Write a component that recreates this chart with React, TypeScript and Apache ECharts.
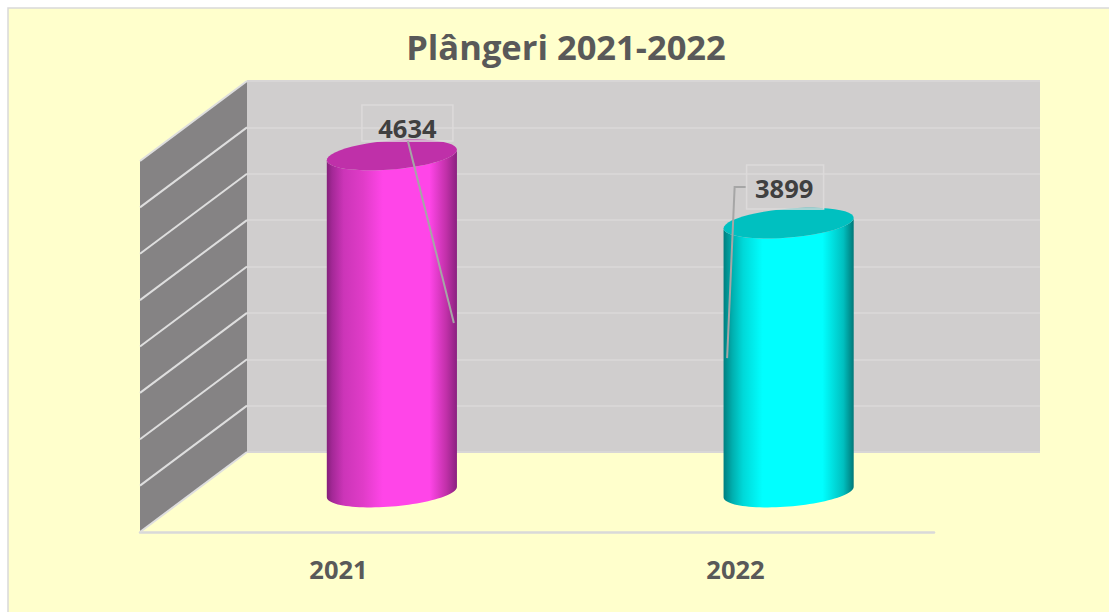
import React, { useEffect, useRef } from "react";
import * as echarts from "echarts";

const titleText = "Plângeri 2021-2022";
const categories = ["2021", "2022"];
const values = [4634, 3899];
const axisMin = 1000;
const axisMax = 5000;
const axisStep = 500;
const wallTicks = [1000, 1500, 2000, 2500, 3000, 3500, 4000, 4500, 5000];

const FONT = "'Open Sans', 'Noto Sans', sans-serif";
const depthX = 53.5;
const depthY = 40;
const barRatio = 0.328;
const capB = 14.5;
const capShear = 5.2;

const cylinderStyles = [
  {
    top: "#BF30A9",
    stops: [
      [0, "#84207A"], [0.04, "#A32896"], [0.13, "#CC35B8"], [0.28, "#E03CC8"], [0.43, "#FF45E8"],
      [0.79, "#FF45E8"], [0.92, "#C030A8"], [1, "#8A2180"],
    ],
  },
  {
    top: "#00C0C0",
    stops: [
      [0, "#007F7F"], [0.07, "#00B0B0"], [0.15, "#00D8D8"], [0.3, "#00FFFF"],
      [0.76, "#00FFFF"], [0.92, "#00C0C0"], [1, "#007878"],
    ],
  },
];

// label box relative to the top centre of each cylinder, leader points relative to the same centre
const labelLayouts = [
  { dx: 15.5, dy: -32, w: 91, h: 36, textDx: 0, textDy: 5.5, leader: [[16, -14], [62, 168]] },
  { dx: -3.5, dy: -36, w: 77, h: 44, textDx: -1, textDy: 1, leader: [[-43, -36], [-54, -36], [-61.5, 135]] },
];

function capPoints(cx: number, cy: number, a: number, from: number, to: number) {
  const pts: number[][] = [];
  const n = 48;
  for (let i = 0; i <= n; i++) {
    const t = from + ((to - from) * i) / n;
    pts.push([cx + a * Math.cos(t), cy + capB * Math.sin(t) - capShear * Math.cos(t)]);
  }
  return pts;
}

export default function App() {
  const ref = useRef<HTMLDivElement>(null);
  useEffect(() => {
    document.body.style.margin = "0";
    const chart = echarts.init(ref.current!, null, { renderer: "svg" });
    const hiddenX = (gridIndex: number) => ({
      type: "category" as const,
      gridIndex,
      data: categories,
      axisLine: { show: false },
      axisTick: { show: false },
      axisLabel: { show: false },
      splitLine: { show: false },
    });
    const baseY = (gridIndex: number) => ({
      type: "value" as const,
      gridIndex,
      min: axisMin,
      max: axisMax,
      interval: axisStep,
      axisLine: { show: false },
      axisTick: { show: false },
      axisLabel: { show: false },
      splitLine: { show: false },
    });
    chart.setOption({
      animation: false,
      backgroundColor: "#FFFFFF",
      title: {
        text: titleText,
        left: 561,
        top: 24,
        textAlign: "center",
        textStyle: { fontFamily: FONT, fontWeight: "bold", fontSize: 34.5, color: "#595959" },
      },
      graphic: [
        {
          type: "rect",
          z: -10,
          silent: true,
          shape: { x: 8, y: 8, width: 1110, height: 610 },
          style: { fill: "#FFFFCC", stroke: "#D9D9D9", lineWidth: 1.5 },
        },
      ],
      grid: [
        { left: 247, top: 81, width: 793, height: 371, show: true, backgroundColor: "#D0CECE", borderWidth: 0 },
        { left: 193.5, top: 121, width: 793.5, height: 371 },
        { left: 140, top: 161, width: 794, height: 371 },
      ],
      xAxis: [
        hiddenX(0),
        hiddenX(1),
        {
          ...hiddenX(2),
          axisLine: { show: true, lineStyle: { color: "#D9D9D9", width: 2.5 } },
          axisLabel: {
            show: true,
            margin: 24,
            fontFamily: FONT,
            fontWeight: "bold",
            fontSize: 25.5,
            color: "#595959",
          },
        },
      ],
      yAxis: [
        {
          ...baseY(0),
          splitLine: { show: true, lineStyle: { color: "#D8D6D6", width: 2 } },
        },
        baseY(1),
        baseY(2),
      ],
      series: [
        {
          type: "custom",
          xAxisIndex: 1,
          yAxisIndex: 1,
          z: 3,
          silent: true,
          data: wallTicks.map((v) => [0, v]),
          encode: { x: 0, y: 1 },
          renderItem: (params: any, api: any) => {
            const x = params.coordSys.x;
            const y = api.coord([0, api.value(1)])[1];
            const lineEl = {
              type: "line",
              shape: { x1: x - depthX, y1: y + depthY, x2: x + depthX, y2: y - depthY },
              style: { stroke: "#DEDEDE", lineWidth: 2 },
            };
            if (params.dataIndex !== 0) return lineEl;
            const yLow = api.coord([0, axisMin])[1];
            const yHigh = api.coord([0, axisMax])[1];
            return {
              type: "group",
              children: [
                {
                  type: "polygon",
                  shape: {
                    points: [
                      [x - depthX, yHigh + depthY],
                      [x + depthX, yHigh - depthY],
                      [x + depthX, yLow - depthY],
                      [x - depthX, yLow + depthY],
                    ],
                  },
                  style: { fill: "#858384" },
                },
                lineEl,
              ],
            };
          },
        },
        {
          type: "custom",
          xAxisIndex: 1,
          yAxisIndex: 1,
          z: 5,
          silent: true,
          data: categories.map((_, i) => [i, values[i]]),
          encode: { x: 0, y: 1 },
          renderItem: (params: any, api: any) => {
            const i = params.dataIndex;
            const top = api.coord([api.value(0), api.value(1)]);
            const bottom = api.coord([api.value(0), axisMin]);
            const a = (api.size([1, 0])[0] * barRatio) / 2;
            const cx = top[0];
            const look = cylinderStyles[i];
            const lay = labelLayouts[i];
            const body = [
              ...capPoints(cx, top[1], a, Math.PI, 0),
              ...capPoints(cx, bottom[1], a, 0, Math.PI),
            ];
            const cap = capPoints(cx, top[1], a, 0, Math.PI * 2);
            const boxX = cx + lay.dx - lay.w / 2;
            const boxY = top[1] + lay.dy - lay.h / 2;
            return {
              type: "group",
              children: [
                {
                  type: "polygon",
                  shape: { points: body },
                  style: {
                    fill: new echarts.graphic.LinearGradient(
                      0, 0, 1, 0,
                      look.stops.map(([offset, color]) => ({ offset, color })) as any
                    ),
                  },
                },
                { type: "polygon", shape: { points: cap }, style: { fill: look.top } },
                {
                  type: "rect",
                  shape: { x: boxX, y: boxY, width: lay.w, height: lay.h },
                  style: { fill: "none", stroke: "#DCDADA", lineWidth: 1.5 },
                },
                {
                  type: "polyline",
                  shape: { points: lay.leader.map(([dx, dy]) => [cx + dx, top[1] + dy]) },
                  style: { fill: "none", stroke: "#A6A6A6", lineWidth: 2 },
                },
                {
                  type: "text",
                  x: cx + lay.dx + lay.textDx,
                  y: top[1] + lay.dy + lay.textDy,
                  style: {
                    text: String(api.value(1)),
                    fontFamily: FONT,
                    fontWeight: "bold",
                    fontSize: 25.5,
                    fill: "#404040",
                    align: "center",
                    verticalAlign: "middle",
                  },
                },
              ],
            };
          },
        },
      ],
    });
    return () => chart.dispose();
  }, []);
  return <div ref={ref} style={{ width: 1109, height: 612 }} />;
}
